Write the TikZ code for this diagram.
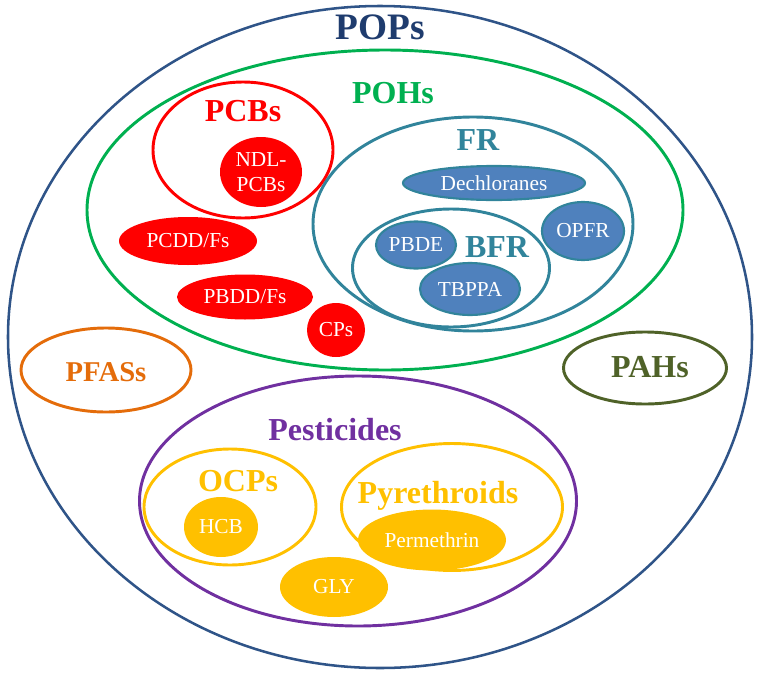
\documentclass[tikz,border=0pt]{standalone}
\usepackage{fontspec}
\setmainfont{Liberation Serif}
\usetikzlibrary{shapes.geometric}
\definecolor{popc}{HTML}{2F5488}
\definecolor{popt}{HTML}{1F3C6E}
\definecolor{pohc}{HTML}{00B050}
\definecolor{pcbc}{HTML}{FF0000}
\definecolor{frc}{HTML}{31849B}
\definecolor{frfill}{HTML}{4F81BD}
\definecolor{pfc}{HTML}{E46C0A}
\definecolor{pahc}{HTML}{4F6228}
\definecolor{pestc}{HTML}{7030A0}
\definecolor{goldc}{HTML}{FFC000}
\begin{document}
\begin{tikzpicture}[x=0.75pt,y=-0.75pt,
  sz/.style 2 args={minimum width=#1*0.75pt, minimum height=#2*0.75pt},
  ring/.style={ellipse, draw, line width=2.2pt, inner sep=0pt},
  blob/.style={ellipse, inner sep=0pt, text=white, font=\fontsize{16}{18.5}\selectfont},
  redblob/.style={blob, fill=pcbc},
  blueblob/.style={blob, fill=frfill, draw=frc, line width=1.6pt},
  goldblob/.style={blob, fill=goldc},
  lab/.style={font=\bfseries\fontsize{24}{26}\selectfont, inner sep=0pt, text height=16.2pt, text depth=0pt}]
\useasboundingbox (0,0) rectangle (761,675);
% outer
\node[ring, draw=popc, line width=1.9pt, sz={744}{662}] (pops) at (380,337) {};
\node[lab, text=popt, font=\bfseries\fontsize{28}{30}\selectfont, text height=19pt] (popsl) at (380,27) {POPs};
% POHs
\node[ring, draw=pohc, sz={596}{320}] (pohs) at (385,210) {};
\node[lab, text=pohc] (pohsl) at (393,93) {POHs};
% PCBs
\node[ring, draw=pcbc, sz={180}{136}] (pcbs) at (243,150) {};
\node[lab, text=pcbc] (pcbsl) at (243,111) {PCBs};
\node[redblob, sz={82}{70}, align=center] (ndl) at (261,172) {NDL-\\PCBs};
\node[redblob, sz={138}{48}] (pcdd) at (188,241) {PCDD/Fs};
\node[redblob, sz={136}{45}] (pbdd) at (245,297) {PBDD/Fs};
\node[redblob, sz={58}{54}] (cps) at (336,330) {CPs};
% FR
\node[ring, draw=frc, sz={320}{214}] (fr) at (473,224) {};
\node[lab, text=frc] (frl) at (478,140) {FR};
\node[blueblob, sz={182}{34}] (dech) at (494,183) {Dechloranes};
\node[ring, draw=frc, sz={197}{118}] (bfr) at (451,268) {};
\node[lab, text=frc] (bfrl) at (497,247) {BFR};
\node[blueblob, sz={80}{47}] (pbde) at (416,245) {PBDE};
\node[blueblob, sz={100}{52}] (tbppa) at (470,289) {TBPPA};
\node[blueblob, sz={82}{58}] (opfr) at (583,231) {OPFR};
% PFASs, PAHs
\node[ring, draw=pfc, sz={170}{84}] (pfas) at (106,370) {};
\node[lab, text=pfc, font=\bfseries\fontsize{21.5}{24}\selectfont, text height=14.5pt] (pfasl) at (106,372) {PFASs};
\node[ring, draw=pahc, sz={163}{72}] (pahs) at (645,368) {};
\node[lab, text=pahc] (pahsl) at (650,367) {PAHs};
% Pesticides
\node[ring, draw=pestc, sz={437}{250}] (pest) at (358,501) {};
\node[lab, text=pestc] (pestl) at (335,430) {Pesticides};
\node[ring, draw=goldc, sz={172}{116}] (ocps) at (230,507) {};
\node[lab, text=goldc] (ocpsl) at (238,481) {OCPs};
\node[goldblob, sz={74}{60}] (hcb) at (221,527) {HCB};
\node[ring, draw=goldc, sz={221}{127}] (pyr) at (452,507) {};
\node[lab, text=goldc] (pyrl) at (438,493) {Pyrethroids};
\node[goldblob, sz={148}{61}] (perm) at (432,540) {Permethrin};
\node[goldblob, sz={108}{60}] (gly) at (334,587) {GLY};
\end{tikzpicture}
\end{document}
